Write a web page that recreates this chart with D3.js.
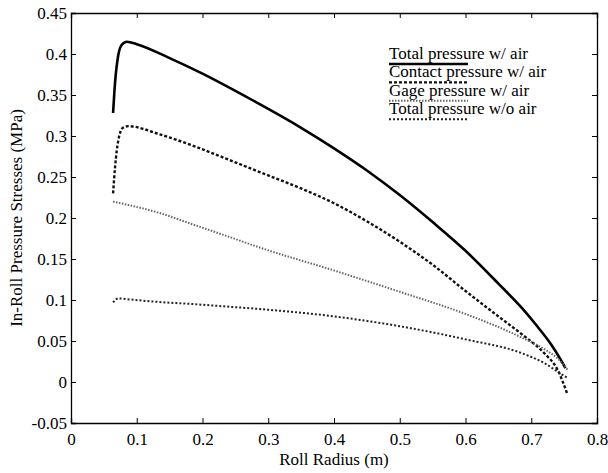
<!DOCTYPE html>
<html>
<head>
<meta charset="utf-8">
<script src="https://cdn.jsdelivr.net/npm/d3@7"></script>
<style>
  body { margin: 0; background: #fff; }
  text { font-family: "Liberation Serif", "DejaVu Serif", serif; fill: #000; }
</style>
</head>
<body>
<svg width="608" height="473"></svg>
<script>
// pressure curves (roll radius in m, stress in MPa)
var totalAirX = [0.064, 0.067, 0.072, 0.077, 0.085, 0.1, 0.15, 0.2, 0.25, 0.3, 0.35, 0.4, 0.45, 0.5, 0.55, 0.6, 0.65, 0.686, 0.71, 0.73, 0.745, 0.752];
var totalAirY = [0.328, 0.365, 0.399, 0.411, 0.415, 0.412, 0.395, 0.376, 0.355, 0.333, 0.31, 0.285, 0.258, 0.228, 0.195, 0.16, 0.12, 0.09, 0.067, 0.046, 0.027, 0.017];

var contactX = [0.064, 0.067, 0.072, 0.079, 0.087, 0.135, 0.186, 0.237, 0.287, 0.35, 0.4, 0.45, 0.5, 0.55, 0.6, 0.65, 0.686, 0.72, 0.74, 0.755];
var contactY = [0.23, 0.262, 0.295, 0.31, 0.312, 0.302, 0.288, 0.272, 0.256, 0.236, 0.218, 0.196, 0.171, 0.143, 0.111, 0.08, 0.058, 0.035, 0.015, -0.015];

var gageX = [0.064, 0.135, 0.186, 0.237, 0.287, 0.4, 0.5, 0.6, 0.686, 0.72, 0.745, 0.755];
var gageY = [0.22, 0.206, 0.192, 0.178, 0.164, 0.136, 0.11, 0.083, 0.054, 0.04, 0.025, 0.015];

var noAirX = [0.064, 0.072, 0.085, 0.135, 0.186, 0.237, 0.287, 0.4, 0.5, 0.6, 0.686, 0.72, 0.745, 0.755];
var noAirY = [0.097, 0.102, 0.101, 0.0975, 0.095, 0.092, 0.089, 0.08, 0.068, 0.052, 0.035, 0.023, 0.01, 0.005];

var legendNames = ["Total pressure w/ air", "Contact pressure w/ air", "Gage pressure w/ air", "Total pressure w/o air"];
var xTicks = [0, 0.1, 0.2, 0.3, 0.4, 0.5, 0.6, 0.7, 0.8];
var yTicks = [-0.05, 0, 0.05, 0.1, 0.15, 0.2, 0.25, 0.3, 0.35, 0.4, 0.45];

var svg = d3.select("svg");
var pLeft = 71, pRight = 597, pTop = 13, pBottom = 423; // plot box

var x = d3.scaleLinear().domain([0, 0.8]).range([pLeft, pRight]);
var y = d3.scaleLinear().domain([-0.05, 0.45]).range([pBottom, pTop]);

// line styles, one per series
var styles = [
  { color: "#000", width: 2.6, dash: null },
  { color: "#111", width: 2.4, dash: "3,2" },
  { color: "#666", width: 2.0, dash: "1.5,1.5" },
  { color: "#222", width: 2.0, dash: "2,2" }
];

var series = [
  d3.zip(totalAirX, totalAirY),
  d3.zip(contactX, contactY),
  d3.zip(gageX, gageY),
  d3.zip(noAirX, noAirY)
];

// axes (matlab style box, ticks inward)
var fmt = function(d) { return String(+d.toFixed(2)); };

svg.append("g").attr("transform", "translate(0," + pBottom + ")")
  .call(d3.axisBottom(x).tickValues(xTicks).tickSize(-5).tickPadding(10).tickFormat(fmt));
svg.append("g").attr("transform", "translate(0," + pTop + ")")
  .call(d3.axisTop(x).tickValues(xTicks).tickSize(-5).tickFormat(""));
svg.append("g").attr("transform", "translate(" + pLeft + ",0)")
  .call(d3.axisLeft(y).tickValues(yTicks).tickSize(-5).tickPadding(4).tickFormat(fmt));
svg.append("g").attr("transform", "translate(" + pRight + ",0)")
  .call(d3.axisRight(y).tickValues(yTicks).tickSize(-5).tickFormat(""));

svg.selectAll(".domain").attr("stroke", "#000").attr("stroke-width", 1.3);
svg.selectAll(".tick line").attr("stroke", "#000").attr("stroke-width", 1);
svg.selectAll(".tick text").style("font-family", "Liberation Serif").style("font-size", "17px").attr("fill", "#000");

// curves
var line = d3.line().x(function(d) { return x(d[0]); }).y(function(d) { return y(d[1]); }).curve(d3.curveMonotoneX);

series.forEach(function(s, i) {
  svg.append("path").datum(s)
    .attr("d", line)
    .attr("fill", "none")
    .attr("stroke", styles[i].color)
    .attr("stroke-width", styles[i].width)
    .attr("stroke-dasharray", styles[i].dash);
});

// legend
var lg = svg.append("g");
legendNames.forEach(function(name, i) {
  var by = 59 + i * 18.4;
  lg.append("text").attr("x", 389).attr("y", by).style("font-size", "17px").text(name);
  lg.append("line").attr("x1", 389).attr("x2", 468).attr("y1", by + 5).attr("y2", by + 5)
    .attr("stroke", styles[i].color).attr("stroke-width", styles[i].width)
    .attr("stroke-dasharray", styles[i].dash);
});

// axis titles
svg.append("text").attr("x", (pLeft + pRight) / 2).attr("y", 465).attr("text-anchor", "middle")
  .style("font-size", "17px").text("Roll Radius (m)");
svg.append("text").attr("transform", "translate(22," + ((pTop + pBottom) / 2) + ") rotate(-90)")
  .attr("text-anchor", "middle").style("font-size", "17px").text("In-Roll Pressure Stresses (MPa)");
</script>
</body>
</html>
